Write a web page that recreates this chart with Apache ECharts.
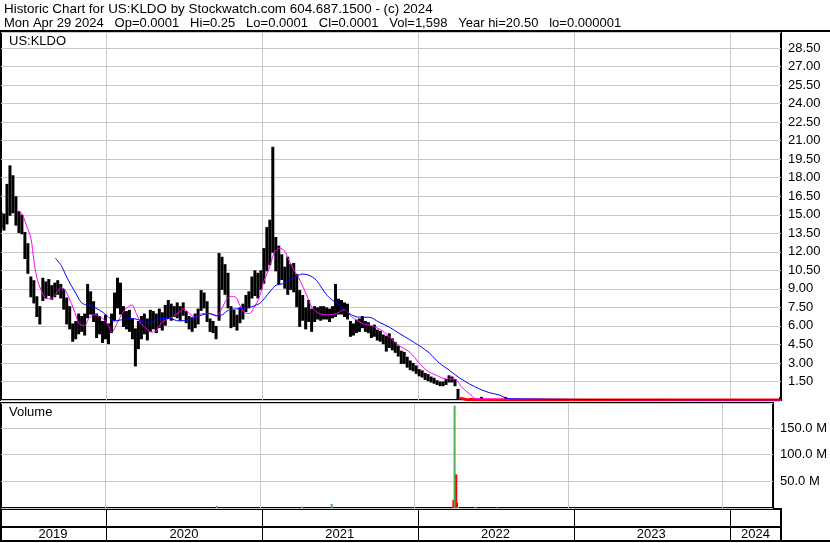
<!DOCTYPE html>
<html><head><meta charset="utf-8">
<script src="https://cdn.jsdelivr.net/npm/echarts@6/dist/echarts.min.js"></script>
<style>html,body{margin:0;padding:0;background:#fff}#c{width:830px;height:543px}</style>
</head><body><div id="c"></div>
<script>
// ---- data ----
const weekStart = [2019, 3, 29]; // weekly bars start Mon Apr 29 2019
const weekLow = [14.0,13.8,14.3,15.0,15.2,14.2,13.6,13.5,11.5,10.3,
 8.4,7.9,6.8,6.2,8.1,8.3,8.5,8.2,8.4,8.6,
 8.3,7.4,6.2,5.8,4.8,5.0,5.4,5.6,5.3,6.7,
 7.0,6.4,5.1,5.4,4.7,5.0,4.6,5.5,6.5,7.5,
 7.0,6.0,5.8,5.6,5.0,2.8,4.2,5.0,5.4,4.9,
 5.6,5.8,5.5,5.9,5.7,6.1,6.7,6.5,6.8,6.7,
 6.5,6.9,6.3,5.8,5.6,5.9,6.2,7.3,7.5,6.4,
 5.6,5.5,5.0,6.5,9.0,8.6,7.5,5.9,6.0,5.7,
 6.3,6.6,7.2,7.5,8.3,8.5,8.3,9.0,9.5,10.5,
 11.0,12.0,10.5,9.4,9.8,9.1,8.6,9.0,8.8,7.6,
 6.0,6.5,5.8,6.4,5.6,6.4,6.6,6.5,6.6,6.6,
 6.4,6.7,6.8,7.0,7.0,6.8,6.6,5.2,5.3,5.5,
 5.6,5.9,5.6,5.5,5.1,5.2,4.9,4.8,4.6,4.0,
 4.3,4.1,3.9,3.6,3.0,3.0,2.7,2.5,2.4,2.2,
 2.0,1.9,1.7,1.6,1.5,1.4,1.3,1.2,1.2,1.3,
 1.5,1.5,1.2,0.1];
const weekHigh = [15.2,15.1,17.5,19.0,18.2,16.5,15.3,15.0,13.6,12.7,
 10.0,9.7,8.4,7.6,9.9,9.6,9.8,9.3,9.5,9.7,
 9.4,9.0,8.3,7.6,6.2,6.4,7.0,6.8,7.0,9.4,
 8.8,8.0,7.0,6.8,6.4,6.9,6.2,7.0,8.7,9.9,
 9.5,7.6,7.2,7.3,6.6,5.8,6.4,6.8,7.0,6.6,
 7.3,7.2,7.0,7.4,7.1,7.7,8.1,7.8,7.6,7.9,
 7.6,7.9,7.2,6.8,6.7,7.0,7.4,8.9,8.7,8.0,
 6.6,6.4,6.0,11.9,11.6,11.0,10.3,7.6,7.3,6.9,
 7.5,7.8,8.5,8.8,10.0,10.5,10.3,10.5,12.3,14.0,
 14.6,20.5,13.2,12.5,11.8,10.8,11.6,11.0,11.1,10.2,
 8.9,8.5,7.5,8.1,7.4,7.6,7.5,7.6,7.6,7.5,
 7.4,7.6,9.4,8.2,8.1,7.9,7.8,6.4,6.2,6.5,
 6.6,6.8,6.4,6.3,6.0,6.1,5.7,5.6,5.3,5.2,
 5.4,5.0,4.7,4.4,4.0,3.9,3.5,3.2,3.0,2.8,
 2.5,2.4,2.2,2.1,1.9,1.8,1.6,1.5,1.5,1.7,
 2.0,1.9,1.7,0.9];
// a few daily bars after the collapse
const lateDates = ['2022-05-05','2022-05-29','2022-07-24','2024-04-29'];
const lateLows  = [0.0001,0.0001,0.0001,0.0001];
const lateHighs = [0.15,0.25,0.25,0.25];
// closes near zero after the collapse (red)
const tailDates = ['2022-04-08','2022-04-22','2022-05-20','2022-07-15','2022-10-14','2023-03-01','2023-09-01','2024-04-29'];
const tailClose = [0.15,0.05,0.03,0.01,0.005,0.002,0.001,0.0001];
// short moving average (magenta)
const maFastDates = ['2019-06-08','2019-06-17','2019-06-27','2019-07-08','2019-07-15','2019-07-22','2019-08-01','2019-08-13','2019-08-24','2019-09-05',
 '2019-09-17','2019-09-24','2019-10-05','2019-10-17','2019-10-29','2019-11-10','2019-11-21','2019-12-03','2019-12-20','2020-01-03',
 '2020-01-14','2020-01-26','2020-02-07','2020-02-19','2020-03-01','2020-03-11','2020-03-22','2020-04-03','2020-04-15','2020-04-27',
 '2020-05-08','2020-05-20','2020-06-03','2020-06-19','2020-07-01','2020-07-13','2020-07-29','2020-08-12','2020-08-29','2020-09-14',
 '2020-09-26','2020-10-08','2020-10-19','2020-10-31','2020-11-07','2020-11-19','2020-12-01','2020-12-12','2020-12-24','2021-01-05',
 '2021-01-17','2021-01-28','2021-02-09','2021-02-21','2021-03-04','2021-03-16','2021-03-28','2021-04-13','2021-04-27','2021-05-14',
 '2021-06-06','2021-06-23','2021-07-11','2021-07-30','2021-08-23','2021-09-15','2021-10-09','2021-10-25','2021-11-17','2021-12-11',
 '2022-01-03','2022-01-20','2022-02-12','2022-03-08','2022-03-26','2022-04-14','2022-05-01','2022-05-17','2024-04-29'];
const maFastVals = [15.3,15.1,14.2,13.1,11.3,9.9,8.9,8.2,8.2,8.6,
 9.1,9.0,8.3,7.3,6.2,6.0,6.6,6.9,6.7,6.2,
 5.5,6.2,7.0,7.5,7.7,7.0,6.2,5.8,5.5,5.6,
 6.2,6.5,6.7,7.1,7.4,7.0,6.7,7.0,7.0,6.8,
 7.3,8.1,8.4,8.3,7.8,7.1,7.0,7.5,8.3,9.7,
 10.7,11.9,12.3,12.1,11.3,10.5,9.8,8.6,7.5,7.0,
 6.9,7.0,7.3,6.7,6.2,6.0,5.6,5.1,4.4,3.9,
 3.0,2.4,2.0,1.7,1.7,1.0,0.5,0.1,0.0001];
// long moving average (blue)
const maSlowDates = ['2019-09-03','2019-09-17','2019-09-28','2019-10-10','2019-10-22','2019-11-03','2019-11-14','2019-11-28','2019-12-15','2019-12-31',
 '2020-01-19','2020-02-07','2020-03-01','2020-03-25','2020-04-10','2020-05-04','2020-05-27','2020-06-19','2020-07-13','2020-08-05',
 '2020-08-29','2020-09-21','2020-10-15','2020-11-07','2020-12-01','2020-12-24','2021-01-05','2021-01-21','2021-02-02','2021-02-16',
 '2021-03-04','2021-03-21','2021-04-04','2021-04-20','2021-05-07','2021-05-21','2021-06-06','2021-06-30','2021-07-23','2021-08-16',
 '2021-09-08','2021-10-01','2021-10-25','2021-11-17','2021-12-11','2022-01-03','2022-01-27','2022-02-19','2022-03-15','2022-04-07',
 '2022-05-01','2022-05-24','2022-06-16','2022-07-10','2022-08-02','2024-04-29'];
const maSlowVals = [11.5,10.9,10.1,9.3,8.6,7.9,7.7,7.6,7.3,6.9,
 6.4,6.5,6.6,6.4,6.2,6.6,6.6,6.4,6.5,6.8,
 7.0,6.8,7.3,7.4,7.5,7.8,8.2,8.9,9.3,9.4,
 9.7,10.0,10.2,10.1,9.7,9.0,8.3,7.7,7.0,6.7,
 6.7,6.3,5.9,5.4,4.9,4.4,3.8,3.0,2.4,1.8,
 1.3,0.9,0.6,0.4,0.1,0.0001];
// volume
const volDates = ['2020-09-21','2021-04-11','2021-06-20','2022-04-04','2022-04-07','2022-04-11','2022-04-13','2022-04-15','2022-05-26','2022-07-17'];
const volValues = [4e6,2.5e6,7.5e6,15e6,192e6,63e6,10e6,2e6,2e6,2e6];
const volUp = [true,true,true,false,true,false,false,true,true,false];
// axes
const priceTicks = {min:0, max:29.8, step:1.5};
const volTicks = {min:0, max:197e6, step:50e6};
const yearNames = ['2019','2020','2021','2022','2023','2024'];
const yearStarts = ['2020-01-01','2021-01-01','2022-01-01','2023-01-01','2024-01-01'];
const yearLabelAt = ['2019-08-29','2020-07-01','2021-07-01','2022-07-01','2023-07-01','2024-03-01'];
const axisStart = '2019-04-29', axisEnd = '2024-04-30';
const headerLine1 = 'Historic Chart for US:KLDO by Stockwatch.com 604.687.1500 - (c) 2024';
const headerLine2 = 'Mon Apr 29 2024   Op=0.0001   Hi=0.25   Lo=0.0001   Cl=0.0001   Vol=1,598   Year hi=20.50   lo=0.000001';

// ---- build ----
const FONT = 'Liberation Sans, Arial, sans-serif';
const t = s => { const p = s.split('-').map(Number); return new Date(p[0], p[1]-1, p[2]).getTime(); };
const tMin = t(axisStart), tMax = t(axisEnd);
const yearStartT = yearStarts.map(t);
const yearLabelT = yearLabelAt.map(t);

const bars = weekLow.map((lo, i) => [new Date(weekStart[0], weekStart[1], weekStart[2] + 7*i).getTime(), lo, weekHigh[i]]);
lateDates.forEach((d, i) => bars.push([t(d), lateLows[i], lateHighs[i]]));

function renderBar(params, api) {
  const a = api.coord([api.value(0), api.value(2)]);
  const b = api.coord([api.value(0), api.value(1)]);
  return {type:'line', shape:{x1:a[0], y1:a[1], x2:b[0], y2:b[1] + 1}, style:{stroke:'#000', lineWidth:3}};
}

const txt = {fontFamily: FONT, fontSize: 13, color: '#000', fontWeight: 'normal'};
const gridBox = (top, height) => ({left: 1, width: 780, top, height, show: true, borderColor: '#000', borderWidth: 2, backgroundColor: '#fff'});
const xAx = (gi, splitColor, labels) => ({
  type: 'value', gridIndex: gi, min: tMin, max: tMax,
  axisLine: {show: false},
  axisTick: {show: false, customValues: yearStartT},
  splitLine: {show: true, lineStyle: {color: splitColor, width: 1}},
  axisLabel: labels ? {show: true, customValues: yearLabelT, inside: true, margin: 0,
     formatter: v => { const k = yearLabelT.indexOf(v); return k >= 0 ? yearNames[k] : ''; }, ...txt} : {show: false}
});

const chart = echarts.init(document.getElementById('c'), null, {renderer: 'canvas'});
chart.setOption({
  animation: false,
  backgroundColor: '#fff',
  title: [
    {text: '{a|' + headerLine1 + '}\n{b|' + headerLine2 + '}',
     left: 4, top: 2, padding: 0,
     textStyle: {...txt, lineHeight: 14, rich: {a: {...txt, fontSize: 13.4, lineHeight: 14}, b: {...txt, lineHeight: 14}}}},
    {text: 'US:KLDO', left: 9, top: 35, padding: 0, textStyle: {...txt}},
    {text: 'Volume', left: 9, top: 406, padding: 0, textStyle: {...txt}}
  ],
  grid: [gridBox(32, 368), gridBox(403, 105), gridBox(509, 18), gridBox(527, 14)],
  xAxis: [xAx(0, '#c8c8c8', false), xAx(1, '#c8c8c8', false), xAx(2, '#000', false), xAx(3, '#000', true)],
  yAxis: [
    {type: 'value', gridIndex: 0, position: 'right', min: priceTicks.min, max: priceTicks.max, interval: priceTicks.step,
     axisLine: {show: false}, axisTick: {show: false},
     splitLine: {lineStyle: {color: '#c8c8c8', width: 1}},
     axisLabel: {margin: 7, ...txt, formatter: v => (v > 0 && Math.abs(v / priceTicks.step - Math.round(v / priceTicks.step)) < 1e-6) ? v.toFixed(2) : ''}},
    {type: 'value', gridIndex: 1, position: 'right', min: volTicks.min, max: volTicks.max, interval: volTicks.step,
     axisLine: {show: false}, axisTick: {show: false},
     splitLine: {lineStyle: {color: '#c8c8c8', width: 1}},
     axisLabel: {margin: 7, ...txt, formatter: v => (v > 0 && v % volTicks.step === 0) ? (v / 1e6).toFixed(1) + ' M' : ''}},
    {type: 'value', gridIndex: 2, show: false},
    {type: 'value', gridIndex: 3, show: false}
  ],
  graphic: [
    {type: 'line', shape: {x1: 0, y1: 31, x2: 830, y2: 31}, style: {stroke: '#000', lineWidth: 2}, z: 100},
    {type: 'line', shape: {x1: 0, y1: 541, x2: 830, y2: 541}, style: {stroke: '#000', lineWidth: 2}, z: 100}
  ],
  series: [
    {type: 'custom', name: 'price', xAxisIndex: 0, yAxisIndex: 0, renderItem: renderBar, data: bars, encode: {x: 0, y: [1, 2]}, clip: true, z: 2},
    {type: 'line', name: 'close', xAxisIndex: 0, yAxisIndex: 0, data: tailDates.map((d, i) => [t(d), tailClose[i]]), showSymbol: false, lineStyle: {color: '#ff0000', width: 3}, clip: true, z: 3},
    {type: 'line', name: 'ma fast', xAxisIndex: 0, yAxisIndex: 0, data: maFastDates.map((d, i) => [t(d), maFastVals[i]]), showSymbol: false, smooth: 0.3, lineStyle: {color: '#ff00ff', width: 1}, clip: true, z: 4},
    {type: 'line', name: 'ma slow', xAxisIndex: 0, yAxisIndex: 0, data: maSlowDates.map((d, i) => [t(d), maSlowVals[i]]), showSymbol: false, smooth: 0.3, lineStyle: {color: '#0000ff', width: 1}, clip: true, z: 5},
    {type: 'bar', name: 'volume', xAxisIndex: 1, yAxisIndex: 1, barWidth: 2, barGap: '-100%',
     data: volDates.map((d, i) => ({value: [t(d), volValues[i]], itemStyle: {color: volUp[i] ? '#4caf50' : '#ff0000'}}))}
  ]
});
</script></body></html>
